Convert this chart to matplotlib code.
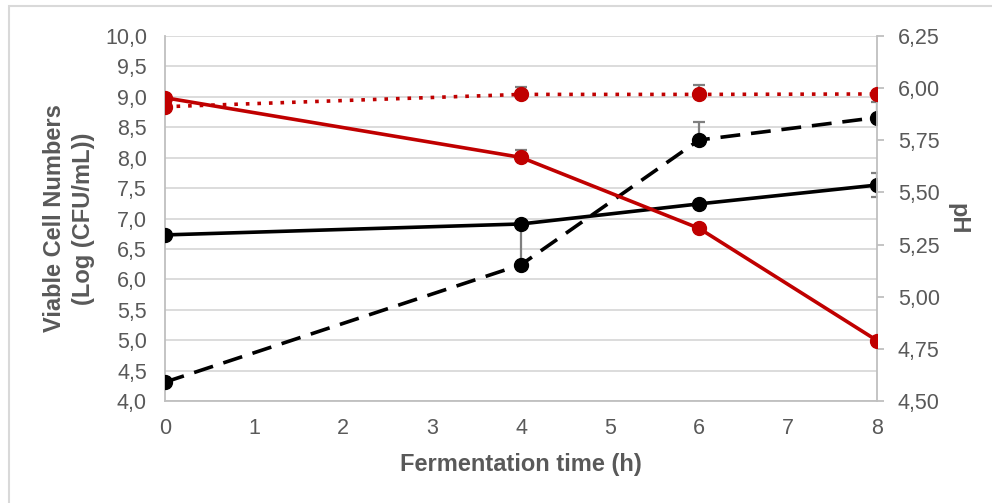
import numpy as np
import matplotlib.pyplot as plt
from matplotlib.patches import Rectangle

plt.rcParams['font.family'] = ['Liberation Sans', 'DejaVu Sans']

hours = [0, 4, 6, 8]

# viable cell numbers, log CFU/mL (left axis)
cells_a = [6.73, 6.91, 7.24, 7.55]
cells_a_err_lo = [0, 0, 0, 0.19]
cells_a_err_hi = [0, 0, 0, 0.19]
cells_b = [4.31, 6.24, 8.29, 8.66]
cells_b_err_hi = [0, 0.66, 0.30, 0.26]

# pH (right axis)
ph_a = [5.954, 5.668, 5.328, 4.79]
ph_a_err_hi = [0, 0.035, 0, 0]
ph_b = [5.911, 5.97, 5.97, 5.972]
ph_b_err_hi = [0, 0.036, 0.047, 0]

left_ticks = np.arange(4.0, 10.01, 0.5)
right_ticks = np.arange(4.5, 6.26, 0.25)
x_ticks = range(0, 9)

gray_txt = '#595959'
red = '#C00000'
err_col = '#7f7f7f'

fig = plt.figure(figsize=(9.92, 5.03), dpi=100)
fig.patches.append(Rectangle((9/992, -0.1), 1.2, 1 - 6/503 + 0.1, transform=fig.transFigure,
                             fill=False, edgecolor='#d9d9d9', lw=1.5, zorder=0))
ax = fig.add_axes([165/992, 1 - 401/503, (877 - 165)/992, (401 - 36)/503])
ax2 = ax.twinx()

ax.set_xlim(0, 8)
ax.set_ylim(4.0, 10.0)
ax2.set_ylim(4.5, 6.25)
ax.set_yticks(left_ticks)
ax.set_yticklabels([f'{v:.1f}'.replace('.', ',') for v in left_ticks])
ax2.set_yticks(right_ticks)
ax2.set_yticklabels([f'{v:.2f}'.replace('.', ',') for v in right_ticks])
ax.set_xticks(list(x_ticks))

ax.grid(axis='y', color='#d9d9d9', lw=1.3)
ax.set_axisbelow(True)

for a in (ax, ax2):
    for s in a.spines.values():
        s.set_visible(False)
ax.spines['left'].set_visible(True)
ax.spines['left'].set_color('#bfbfbf')
ax.spines['left'].set_linewidth(1.3)
ax.spines['bottom'].set_visible(True)
ax.spines['bottom'].set_color('#bfbfbf')
ax.spines['bottom'].set_linewidth(1.3)
ax2.spines['right'].set_visible(True)
ax2.spines['right'].set_color('#bfbfbf')
ax2.spines['right'].set_linewidth(1.3)

ax.tick_params(axis='y', length=0, labelsize=15.5, labelcolor=gray_txt, pad=13)
ax.tick_params(axis='x', length=0, labelsize=15.5, labelcolor=gray_txt, pad=12)
ax2.tick_params(axis='y', length=5, width=1.3, color='#bfbfbf', labelsize=15.5,
                labelcolor=gray_txt, pad=10)

# black series (cells)
ax.errorbar(hours, cells_a, yerr=[cells_a_err_lo, cells_a_err_hi], fmt='none',
            ecolor=err_col, elinewidth=1.6, capsize=4.5, capthick=1.6, zorder=2)
ax.errorbar(hours, cells_b, yerr=[[0]*4, cells_b_err_hi], fmt='none',
            ecolor=err_col, elinewidth=1.6, capsize=4.5, capthick=1.6, zorder=2)
ax.plot(hours, cells_a, color='black', lw=2.6, marker='o', ms=10, zorder=3)
ax.plot(hours, cells_b, color='black', lw=2.6, ls=(0, (5.5, 3)), marker='o', ms=10, zorder=3)

# red series (pH)
ax2.errorbar(hours, ph_a, yerr=[[0]*4, ph_a_err_hi], fmt='none',
             ecolor=err_col, elinewidth=1.6, capsize=4.5, capthick=1.6, zorder=2)
ax2.errorbar(hours, ph_b, yerr=[[0]*4, ph_b_err_hi], fmt='none',
             ecolor=err_col, elinewidth=1.6, capsize=4.5, capthick=1.6, zorder=2)
ax2.plot(hours, ph_a, color=red, lw=2.6, marker='o', ms=10, zorder=3)
ax2.plot(hours, ph_b, color=red, lw=2.6, ls=(0, (1, 2.2)), marker='o', ms=10, zorder=3)

ax.set_xlabel('Fermentation time (h)', fontsize=17, fontweight='bold', color=gray_txt, labelpad=10)
ax.set_ylabel('Viable Cell Numbers\n(Log (CFU/mL))', fontsize=17, fontweight='bold',
              color=gray_txt, labelpad=7, linespacing=1.35)
ax2.set_ylabel('pH', fontsize=17, fontweight='bold', color=gray_txt, rotation=270, labelpad=21)

fig.savefig('out.png', dpi=100)
